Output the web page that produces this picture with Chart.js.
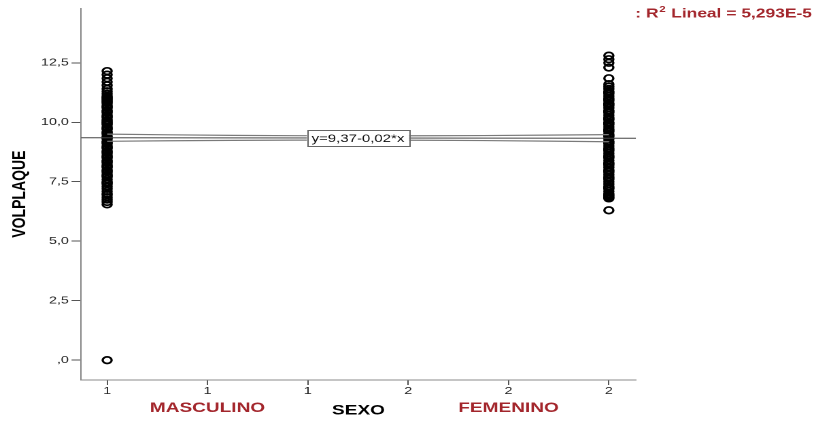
<!DOCTYPE html>
<html><head><meta charset="utf-8">
<script src="https://cdn.jsdelivr.net/npm/chart.js@4"></script>
<style>
html,body{margin:0;padding:0;background:#fff;overflow:hidden}
#wrap{position:absolute;left:0;top:0;width:600px;height:421px;transform:scaleX(1.36);transform-origin:0 0;}
</style></head><body>
<div id="wrap"><canvas id="c"></canvas></div>
<script>
// ---- data ----
const categories = ['MASCULINO', 'FEMENINO'];
const categoryCodes = [1, 2];
const masculinoVol = [12.15, 12.0, 11.85, 11.7, 11.55, 11.4, 11.3, 11.2, 11.1, 11.05, 11.0, 10.95, 10.9, 10.85, 10.8,
  10.7, 10.65, 10.6, 10.5, 10.45, 10.4, 10.3, 10.25, 10.2, 10.1, 10.05, 10.0, 9.95, 9.9, 9.8, 9.75, 9.7, 9.6, 9.55,
  9.5, 9.4, 9.35, 9.3, 9.2, 9.15, 9.1, 9.0, 8.95, 8.9, 8.8, 8.75, 8.7, 8.6, 8.55, 8.5, 8.4, 8.35, 8.3, 8.2, 8.15,
  8.1, 8.0, 7.95, 7.9, 7.8, 7.75, 7.7, 7.6, 7.5, 7.45, 7.4, 7.3, 7.2, 7.1, 7.0, 6.95, 6.85, 6.75, 6.65, 6.55, 0.0];
const femeninoVol = [12.8, 12.65, 12.5, 12.3, 11.85, 11.6, 11.5, 11.4, 11.3, 11.25, 11.2, 11.1, 11.0, 10.95, 10.9,
  10.8, 10.75, 10.7, 10.6, 10.5, 10.45, 10.4, 10.3, 10.2, 10.15, 10.1, 10.0, 9.95, 9.9, 9.8, 9.7, 9.65, 9.6, 9.5,
  9.45, 9.4, 9.3, 9.2, 9.15, 9.1, 9.0, 8.9, 8.85, 8.8, 8.7, 8.6, 8.55, 8.5, 8.4, 8.3, 8.25, 8.2, 8.1, 8.0, 7.95,
  7.9, 7.8, 7.7, 7.65, 7.6, 7.5, 7.4, 7.3, 7.25, 7.2, 7.1, 7.0, 6.95, 6.9, 6.85, 6.8, 6.3];
const xTickValues = [1, 1.2, 1.4, 1.6, 1.8, 2];
const xTickLabels = ['1', '1', '1', '2', '2', '2'];
const yTickValues = [0, 2.5, 5, 7.5, 10, 12.5];
const yTickLabels = [',0', '2,5', '5,0', '7,5', '10,0', '12,5'];
const fitIntercept = 9.37;
const fitSlope = -0.02;
const fitXRange = [0.948, 2.054];
const ciX = [1, 1.25, 1.5, 1.75, 2];
const ciUpper = [9.50, 9.45, 9.43, 9.44, 9.48];
const ciLower = [9.20, 9.24, 9.25, 9.23, 9.18];
const equationText = 'y=9,37-0,02*x';
const r2Value = '5,293E-5';
const xTitle = 'SEXO';
const yTitle = 'VOLPLAQUE';

// ---- chart ----
Chart.defaults.font.family = "'Liberation Sans', Arial, sans-serif";
const RED = '#a3262c';

const pts = (code, arr) => arr.map(v => ({x: code, y: v}));
const fitLine = fitXRange.map(x => ({x, y: fitIntercept + fitSlope * x}));

const annot = {
  id: 'annot',
  afterDatasetsDraw(chart) {
    const {ctx, scales: {x, y}} = chart;
    const xv = 1.5;
    const px = x.getPixelForValue(xv);
    const py = y.getPixelForValue(fitIntercept + fitSlope * xv);
    ctx.save();
    ctx.font = "11px 'Liberation Sans', Arial, sans-serif";
    const w = ctx.measureText(equationText).width + 7;
    const h = 16;
    ctx.fillStyle = '#fff';
    ctx.fillRect(px - w / 2, py - h / 2, w, h);
    ctx.strokeStyle = '#666';
    ctx.lineWidth = 1;
    ctx.strokeRect(Math.round(px - w / 2) + 0.5, Math.round(py - h / 2) + 0.5, Math.round(w), h);
    ctx.fillStyle = '#111';
    ctx.textAlign = 'center';
    ctx.textBaseline = 'middle';
    ctx.fillText(equationText, px, py + 1);
    ctx.restore();
  },
  afterDraw(chart) {
    const {ctx, scales: {x}} = chart;
    ctx.save();
    ctx.fillStyle = RED;
    ctx.font = "bold 14px 'Liberation Sans', Arial, sans-serif";
    ctx.textAlign = 'center';
    ctx.textBaseline = 'middle';
    ctx.fillText(categories[0], x.getPixelForValue(1.2), 408);
    ctx.fillText(categories[1], x.getPixelForValue(1.8), 408);
    // R2 label, right aligned
    const f1 = "bold 12.8px 'Liberation Sans', Arial, sans-serif";
    const f2 = "bold 8.5px 'Liberation Sans', Arial, sans-serif";
    const a = ': R', b = '2', c = ' Lineal = ' + r2Value;
    ctx.textAlign = 'left';
    ctx.textBaseline = 'alphabetic';
    ctx.font = f1; const wa = ctx.measureText(a).width, wc = ctx.measureText(c).width;
    ctx.font = f2; const wb = ctx.measureText(b).width;
    let sx = 597 - (wa + wb + 1 + wc);
    const base = 17.5;
    ctx.font = f1; ctx.fillText(a, sx, base); sx += wa + 0.5;
    ctx.font = f2; ctx.fillText(b, sx, base - 5.5); sx += wb + 0.5;
    ctx.font = f1; ctx.fillText(c, sx, base);
    ctx.restore();
  }
};

const pointStyle = {pointStyle: 'circle', pointRadius: 3.3, pointBorderWidth: 1.7, borderColor: '#000', backgroundColor: 'rgba(0,0,0,0)'};

new Chart(document.getElementById('c'), {
  type: 'scatter',
  data: {
    datasets: [
      Object.assign({label: categories[0], data: pts(categoryCodes[0], masculinoVol), order: 2}, pointStyle),
      Object.assign({label: categories[1], data: pts(categoryCodes[1], femeninoVol), order: 2}, pointStyle),
      {type: 'line', label: 'fit', data: fitLine, order: 0, borderColor: '#444', borderWidth: 1, pointRadius: 0, fill: false},
      {type: 'line', label: 'ciU', data: ciX.map((xv, i) => ({x: xv, y: ciUpper[i]})), order: 1, borderColor: '#7a7a7a',
       borderWidth: 1.2, pointRadius: 0, tension: 0.3, fill: false},
      {type: 'line', label: 'ciL', data: ciX.map((xv, i) => ({x: xv, y: ciLower[i]})), order: 1, borderColor: '#7a7a7a',
       borderWidth: 1.2, pointRadius: 0, tension: 0.3, fill: false}
    ]
  },
  options: {
    responsive: true,
    maintainAspectRatio: false,
    animation: false,
    devicePixelRatio: 2,
    layout: {padding: {left: 0, right: 132.4, top: 5, bottom: 1}},
    plugins: {legend: {display: false}, tooltip: {enabled: false}},
    scales: {
      x: {
        type: 'linear', min: fitXRange[0], max: fitXRange[1],
        afterBuildTicks: s => { s.ticks = xTickValues.map(v => ({value: v})); },
        afterFit: s => { s.height = 40; },
        ticks: {autoSkip: false, maxRotation: 0, padding: 0, color: '#222', font: {size: 10.5},
                callback: (v, i) => xTickLabels[i]},
        grid: {display: true, drawOnChartArea: false, drawTicks: true, tickLength: 5, color: '#555'},
        border: {display: true, color: '#8a8a8a', width: 1},
        title: {display: true, text: xTitle, color: '#000', font: {size: 14, weight: 'bold'}, padding: {top: 0, bottom: 1}}
      },
      y: {
        type: 'linear', min: -0.833, max: 14.79,
        afterBuildTicks: s => { s.ticks = yTickValues.map(v => ({value: v})); },
        afterFit: s => { s.width = 59.6; },
        ticks: {autoSkip: false, padding: 2, color: '#222', font: {size: 10.5},
                callback: (v, i) => yTickLabels[i]},
        grid: {display: true, drawOnChartArea: false, drawTicks: true, tickLength: 7, color: '#555'},
        border: {display: true, color: '#8a8a8a', width: 1},
        title: {display: true, text: yTitle, color: '#000', font: {size: 14, weight: 'bold'}, padding: {top: 6, bottom: 0}}
      }
    }
  },
  plugins: [annot]
});
</script>
</body></html>
